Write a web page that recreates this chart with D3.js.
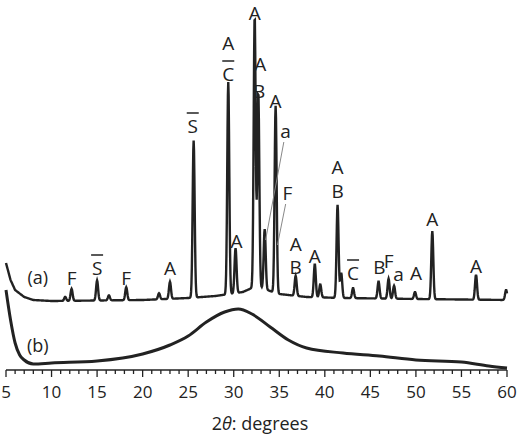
<!DOCTYPE html>
<html><head><meta charset="utf-8">
<script src="https://cdn.jsdelivr.net/npm/d3@7"></script>
<style>body{margin:0;background:#fff}text{font-family:"Open Sans",sans-serif;fill:#222}</style>
</head><body><svg id="c" width="520" height="441"></svg>
<script>
// intensity units = pixels above axis line
const xTicks = [5,10,15,20,25,30,35,40,45,50,55,60];
const bgA = [[5,107],[5.5,90],[6,80],[7,73],[8,70],[10,69],[20,70],[25,72],[28,74],[31,78],[32,82],[33,82],[35,76],[38,73],[42,72],[50,71],[60,70]];
const peaksA = [[11.5,4],[12.2,12],[15,20],[16.3,5],[18.2,13],[21.8,6],[23,17],[25.6,157],[29.4,212],[30.2,45],[32.3,272],[32.7,196],[33.4,60],[34.6,187],[36.8,20],[38.9,33],[39.5,13],[41.4,93],[41.8,25],[43.1,10],[45.9,17],[47,20],[47.6,13],[49.9,7],[51.8,68],[56.6,25],[59.9,10]];
const bgB = [[5,80],[5.5,50],[6,27],[6.5,15],[7,10],[8,6],[10,7],[15,9],[20,16],[23,25],[25,34],[27,48],[29,58],[30.5,61],[32,56],[34,43],[36,30],[38,22],[42,17],[46,14],[50,10],[55,8],[58,4],[60,2]];
const labels = [["F",12.2,93],["S",15,103,1],["F",18.2,93],["A",23,103],["S",25.5,245,1],["A",29.4,328],["C",29.4,297,1],["A",32.3,358],["A",32.9,307],["B",32.8,280],["A",34.6,270],["a",35.7,240],["F",35.9,178],["A",30.3,130],["A",36.8,127],["B",36.8,104],["A",38.9,115],["A",41.4,204],["B",41.4,180],["C",43.1,98,1],["B",46,104],["F",47,110],["a",48.1,97],["A",50,98],["A",51.8,152],["A",56.6,105]];
const leaders = [[35.5,228,33.5,130],[35.7,166,34.8,125]];
const seriesNames = [["(a)",8.5,92],["(b)",8.5,24]];

const svg = d3.select("#c");
const x = d3.scaleLinear().domain([5,60]).range([6,507]);
const y = d3.scaleLinear().domain([0,370]).range([370,0]);
const interp = (pts,v)=>{for(let i=1;i<pts.length;i++){if(v<=pts[i][0]){const [a,b]=pts[i-1],[c,d]=pts[i];return b+(d-b)*(v-a)/(c-a);}}return pts[pts.length-1][1];};
const xs = d3.range(5,60.001,0.04);
const dataA = xs.map(v=>[v, interp(bgA,v)+d3.sum(peaksA,p=>p[1]*Math.exp(-0.5*((v-p[0])/0.11)**2))]);
const line = d3.line().x(d=>x(d[0])).y(d=>y(d[1]));
svg.append("path").attr("d",line(dataA)).attr("fill","none").attr("stroke","#222").attr("stroke-width",2.4);
svg.append("path").attr("d",d3.line().x(d=>x(d[0])).y(d=>y(d[1])).curve(d3.curveMonotoneX)(bgB)).attr("fill","none").attr("stroke","#222").attr("stroke-width",3);
const ax = svg.append("g").attr("transform","translate(0,370)");
ax.append("line").attr("x1",x(5)).attr("x2",x(60)).attr("stroke","#222").attr("stroke-width",1.5);
ax.selectAll(".m").data(d3.range(5,61,1)).join("line").attr("x1",d=>x(d)).attr("x2",d=>x(d)).attr("y1",0).attr("y2",d=>d%5?4:7).attr("stroke","#222").attr("stroke-width",1.3);
ax.selectAll("text").data(xTicks).join("text").attr("x",d=>x(d)).attr("y",28).attr("text-anchor","middle").attr("font-size",17).text(d=>d);
const xl = svg.append("text").attr("x",260).attr("y",430).attr("text-anchor","middle").attr("font-size",18);
xl.append("tspan").text("2");xl.append("tspan").attr("font-style","italic").text("θ");xl.append("tspan").text(": degrees");
leaders.forEach(l=>svg.append("line").attr("x1",x(l[0])).attr("y1",y(l[1])).attr("x2",x(l[2])).attr("y2",y(l[3])).attr("stroke","#888").attr("stroke-width",1));
labels.forEach(l=>{
  svg.append("text").attr("x",x(l[1])).attr("y",y(l[2])+8).attr("text-anchor","middle").attr("font-size",19).text(l[0]);
  if(l[3]) svg.append("line").attr("x1",x(l[1])-6).attr("x2",x(l[1])+6).attr("y1",y(l[2])-12).attr("y2",y(l[2])-12).attr("stroke","#222").attr("stroke-width",1.5);
});
seriesNames.forEach(s=>svg.append("text").attr("x",x(s[1])).attr("y",y(s[2])+6).attr("text-anchor","middle").attr("font-size",18).text(s[0]));
</script></body></html>
